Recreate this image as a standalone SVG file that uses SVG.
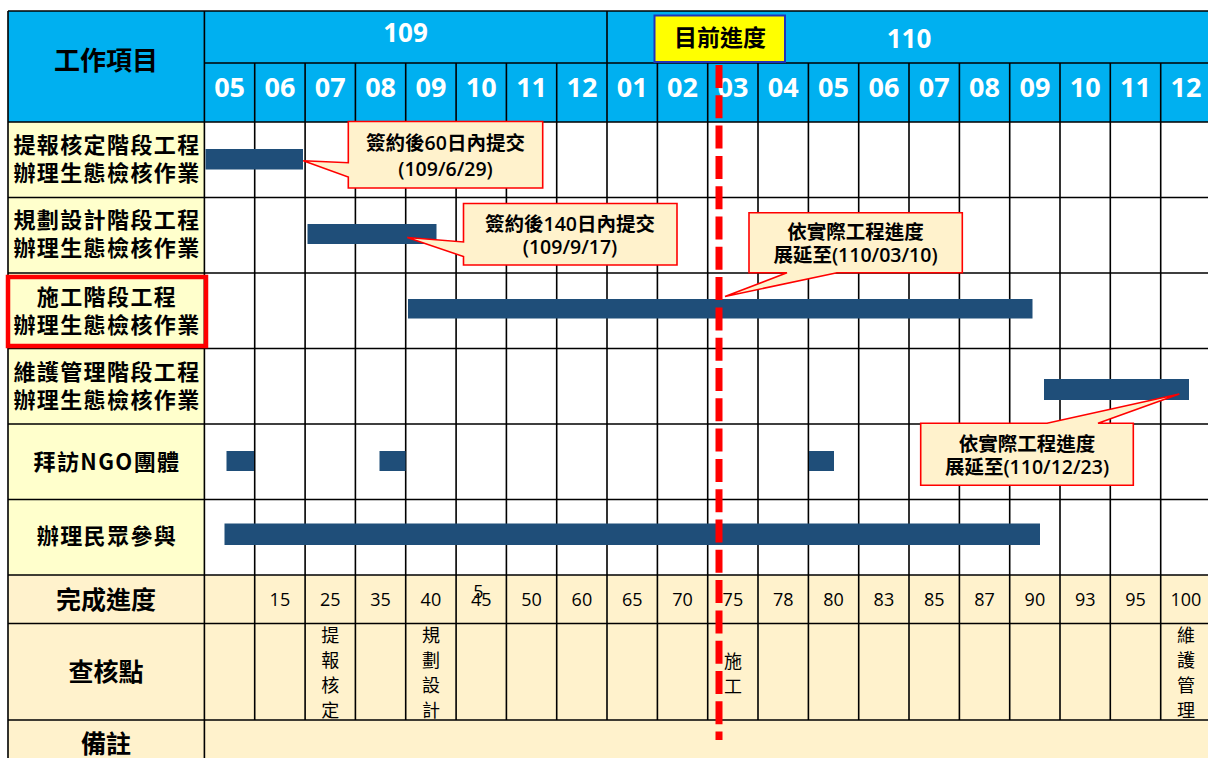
<svg xmlns="http://www.w3.org/2000/svg" width="1208" height="758" viewBox="0 0 1208 758">
<style>
.grid{stroke:#000;stroke-width:1.6;fill:none}
.bar{fill:#1F4E79}
.callout{fill:#FFF2CC;stroke:#FF0000;stroke-width:1.6;stroke-linejoin:miter}
text{font-family:"Open Sans","Noto Sans CJK TC",sans-serif}
.cjk{font-family:"Noto Sans CJK TC","Noto Sans",sans-serif}
.lbl{font-size:22px;font-weight:bold;fill:#000;text-anchor:middle;letter-spacing:1.4px}
.big{font-size:25px;font-weight:bold;fill:#000;text-anchor:middle}
.mon{font-size:27px;font-weight:bold;fill:#fff;text-anchor:middle}
.yr{font-size:26px;font-weight:bold;fill:#fff;text-anchor:middle}
.pct{font-size:18px;fill:#000;text-anchor:middle}
.chk{font-size:18px;fill:#000;text-anchor:middle}
.ct{font-size:19.5px;font-weight:600;fill:#000;text-anchor:middle}
</style>
<rect width="1208" height="758" fill="#fff"/>
<g id="table">
<rect x="8" y="11" width="1200" height="111" fill="#00B0F0"/>
<rect x="8" y="122" width="196.4" height="453" fill="#FFFFCC"/>
<rect x="8" y="575" width="1200" height="183" fill="#FFF2CC"/>
<path class="grid" d="M8,11H1208M204.4,63H1208M8,122H1208M8,197.5H1208M8,273H1208M8,348.5H1208M8,424H1208M8,499.5H1208M8,575H1208M8,623.5H1208M8,720H1208"/>
<path class="grid" d="M8,11V758M204.4,11V758M607,11V720
M254.7,63V720M305.1,63V720M355.4,63V720M405.7,63V720M456.1,63V720M506.4,63V720M556.7,63V720
M657.4,63V720M707.7,63V720M758,63V720M808.4,63V720M858.7,63V720M909,63V720M959.4,63V720M1009.7,63V720M1060,63V720M1110.3,63V720M1160.7,63V720"/>
</g>
<g id="header">
<text class="big cjk" x="106" y="70" style="font-size:26px">工作項目</text>
<text class="yr" x="405.5" y="41.5">109</text>
<text class="yr" x="909" y="48">110</text>
<g class="mon">
<text class="mon" x="229.6" y="97">05</text><text class="mon" x="279.9" y="97">06</text><text class="mon" x="330.2" y="97">07</text><text class="mon" x="380.6" y="97">08</text>
<text class="mon" x="430.9" y="97">09</text><text class="mon" x="481.2" y="97">10</text><text class="mon" x="531.6" y="97">11</text><text class="mon" x="581.9" y="97">12</text>
<text class="mon" x="632.2" y="97">01</text><text class="mon" x="682.5" y="97">02</text><text class="mon" x="732.9" y="97">03</text><text class="mon" x="783.2" y="97">04</text>
<text class="mon" x="833.5" y="97">05</text><text class="mon" x="883.9" y="97">06</text><text class="mon" x="934.2" y="97">07</text><text class="mon" x="984.5" y="97">08</text>
<text class="mon" x="1034.9" y="97">09</text><text class="mon" x="1085.2" y="97">10</text><text class="mon" x="1135.5" y="97">11</text><text class="mon" x="1185.9" y="97">12</text>
</g>
</g>
<g id="task1">
<text class="lbl cjk" x="107" y="153">提報核定階段工程</text>
<text class="lbl cjk" x="107" y="181">辦理生態檢核作業</text>
<rect class="bar" x="205.5" y="149" width="97.5" height="20.5"/>
</g>
<g id="task2">
<text class="lbl cjk" x="107" y="228">規劃設計階段工程</text>
<text class="lbl cjk" x="107" y="256">辦理生態檢核作業</text>
<rect class="bar" x="307.5" y="224" width="129" height="20"/>
</g>
<g id="task3">
<rect x="8" y="277" width="198" height="69" fill="none" stroke="#FF0000" stroke-width="4.5"/>
<text class="lbl cjk" x="107" y="305">施工階段工程</text>
<text class="lbl cjk" x="107" y="333">辦理生態檢核作業</text>
<rect class="bar" x="408" y="299" width="624.5" height="19.5"/>
</g>
<g id="task4">
<text class="lbl cjk" x="107" y="380">維護管理階段工程</text>
<text class="lbl cjk" x="107" y="408">辦理生態檢核作業</text>
<rect class="bar" x="1044" y="379" width="145" height="21"/>
</g>
<g id="task5">
<text class="lbl cjk" x="107" y="470">拜訪NGO團體</text>
<rect class="bar" x="226.5" y="451" width="27.5" height="20"/>
<rect class="bar" x="379.5" y="451" width="26" height="20"/>
<rect class="bar" x="809" y="451" width="25" height="20"/>
</g>
<g id="task6">
<text class="lbl cjk" x="107" y="544">辦理民眾參與</text>
<rect class="bar" x="224.5" y="523.5" width="815.5" height="21.5"/>
</g>
<g id="progress-row">
<text class="big cjk" x="106" y="609">完成進度</text>
<text class="pct" x="279.9" y="606">15</text><text class="pct" x="330.2" y="606">25</text><text class="pct" x="380.6" y="606">35</text>
<text class="pct" x="430.9" y="606">40</text><text class="pct" x="481.2" y="606">45</text><text class="pct" x="478.5" y="598">5</text>
<text class="pct" x="531.6" y="606">50</text><text class="pct" x="581.9" y="606">60</text>
<text class="pct" x="632.2" y="606">65</text><text class="pct" x="682.5" y="606">70</text><text class="pct" x="732.9" y="606">75</text><text class="pct" x="783.2" y="606">78</text>
<text class="pct" x="833.5" y="606">80</text><text class="pct" x="883.9" y="606">83</text><text class="pct" x="934.2" y="606">85</text><text class="pct" x="984.5" y="606">87</text>
<text class="pct" x="1034.9" y="606">90</text><text class="pct" x="1085.2" y="606">93</text><text class="pct" x="1135.5" y="606">95</text><text class="pct" x="1185.9" y="606">100</text>
</g>
<g id="checkpoint-row">
<text class="big cjk" x="106" y="681">查核點</text>
<text class="chk cjk" x="330.2" y="642">提<tspan x="330.2" dy="25">報</tspan><tspan x="330.2" dy="25">核</tspan><tspan x="330.2" dy="25">定</tspan></text>
<text class="chk cjk" x="430.9" y="642">規<tspan x="430.9" dy="25">劃</tspan><tspan x="430.9" dy="25">設</tspan><tspan x="430.9" dy="25">計</tspan></text>
<text class="chk cjk" x="733" y="668">施<tspan x="733" dy="25">工</tspan></text>
<text class="chk cjk" x="1185.9" y="642">維<tspan x="1185.9" dy="25">護</tspan><tspan x="1185.9" dy="25">管</tspan><tspan x="1185.9" dy="25">理</tspan></text>
</g>
<g id="remark-row">
<text class="big cjk" x="106" y="753">備註</text>
</g>
<g id="callout1">
<path class="callout" d="M348.3,121.5H542.7V188H348.3V177L303.3,160.7L348.3,162.7Z"/>
<text class="ct" x="445.5" y="150">簽約後60日內提交</text>
<text class="ct" x="445.5" y="176">(109/6/29)</text>
</g>
<g id="callout2">
<path class="callout" d="M463.5,203.5H677V265H463.5V256.5L407.3,237.5L463.5,242Z"/>
<text class="ct" x="570" y="230.5">簽約後140日內提交</text>
<text class="ct" x="570" y="254">(109/9/17)</text>
</g>
<g id="callout3">
<path class="callout" d="M749,212.7H962.3V272.7H837L725,296.5L787,272.7H749Z"/>
<text class="ct" x="855.5" y="239">依實際工程進度</text>
<text class="ct" x="855.5" y="262">展延至(110/03/10)</text>
</g>
<g id="callout4">
<path class="callout" d="M920.7,423.3H1047L1179.3,394L1098,423.3H1133.3V485.3H920.7Z"/>
<text class="ct" x="1027" y="450.5">依實際工程進度</text>
<text class="ct" x="1027" y="474">展延至(110/12/23)</text>
</g>
<g id="connectors">
<line x1="719" y1="65" x2="719" y2="740" stroke="#FF0000" stroke-width="7" stroke-dasharray="23 7.3"/>
</g>
<g id="current-marker">
<rect x="654.5" y="15.5" width="130.5" height="46.5" fill="#FFFF00" stroke="#2233BB" stroke-width="2"/>
<text class="cjk" x="720" y="46" style="font-size:23px;font-weight:bold;text-anchor:middle;fill:#000">目前進度</text>
</g>
</svg>
